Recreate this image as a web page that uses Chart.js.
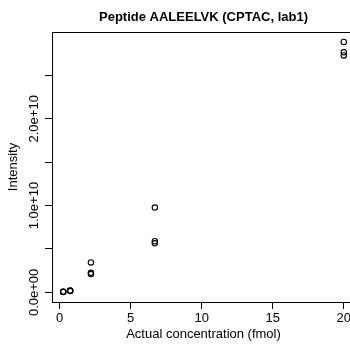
<!DOCTYPE html>
<html>
<head>
<meta charset="utf-8">
<script src="https://cdn.jsdelivr.net/npm/chart.js@4"></script>
<style>
html, body { margin: 0; padding: 0; overflow: hidden; background: #fff; }
canvas { display: block; }
</style>
</head>
<body>
<canvas id="myScatter" width="360" height="346"></canvas>
<script>
// values (3 replicates per concentration)
var concentrations = [0.25, 0.74, 2.2, 6.7, 20];
var intensityRep1 = [0.08e9, 0.20e9, 3.45e9, 9.77e9, 28.85e9];
var intensityRep2 = [0.06e9, 0.17e9, 2.25e9, 5.90e9, 27.66e9];
var intensityRep3 = [0.04e9, 0.15e9, 2.10e9, 5.65e9, 27.30e9];

var xTicks = [0, 5, 10, 15, 20];
var yTicks = [0, 5e9, 1e10, 1.5e10, 2e10, 2.5e10];
var yTickLabels = ['0.0e+00', '', '1.0e+10', '', '2.0e+10', ''];

var points = [];
[intensityRep1, intensityRep2, intensityRep3].forEach(function(rep){
    concentrations.forEach(function(c, i){
        points.push({x: c, y: rep[i]});
    });
});

// R style axis range: data range plus 4% on each side
function rRange(vals){
    var lo = Math.min.apply(null, vals), hi = Math.max.apply(null, vals);
    var d = (hi - lo) * 0.04;
    return [lo - d, hi + d];
}
var xr = rRange(points.map(function(p){ return p.x; }));
var yr = rRange(points.map(function(p){ return p.y; }));

Chart.defaults.font.family = '"Liberation Sans", Arial, Helvetica, sans-serif';
Chart.defaults.font.size = 13;
Chart.defaults.color = '#000';

var rStyle = {
    id: 'rStyle',
    afterDraw: function(chart){
        var ctx = chart.ctx, a = chart.chartArea, ys = chart.scales.y;
        ctx.save();
        ctx.strokeStyle = '#000';
        ctx.lineWidth = 1;
        ctx.strokeRect(Math.round(a.left) + 0.5, Math.round(a.top) + 0.5,
            Math.round(a.right - a.left), Math.round(a.bottom - a.top));
        // rotated y tick labels
        ctx.fillStyle = '#000';
        ctx.font = '13px "Liberation Sans", Arial, sans-serif';
        ctx.textAlign = 'center';
        ctx.textBaseline = 'alphabetic';
        yTicks.forEach(function(v, i){
            if (!yTickLabels[i]) return;
            ctx.save();
            ctx.translate(38, ys.getPixelForValue(v));
            ctx.rotate(-Math.PI / 2);
            ctx.fillText(yTickLabels[i], 0, 0);
            ctx.restore();
        });
        // main title
        ctx.font = 'bold 13px "Liberation Sans", Arial, sans-serif';
        ctx.fillText('Peptide AALEELVK (CPTAC, lab1)', (a.left + a.right) / 2, 21);
        ctx.restore();
    }
};

var ctx = document.getElementById('myScatter');
var myScatter = new Chart(ctx, {
    type: 'scatter',
    data: {
        datasets: [{
            data: points,
            pointStyle: 'circle',
            pointRadius: 2.7,
            pointBorderWidth: 1.1,
            pointBorderColor: '#000',
            pointBackgroundColor: 'rgba(0,0,0,0)',
            pointHoverRadius: 2.7
        }]
    },
    options: {
        responsive: false,
        animation: false,
        layout: { padding: { top: 32, right: 5, left: 0, bottom: 0 } },
        plugins: { legend: { display: false }, tooltip: { enabled: false } },
        scales: {
            x: {
                type: 'linear',
                min: xr[0],
                max: xr[1],
                afterBuildTicks: function(s){ s.ticks = xTicks.map(function(v){ return {value: v}; }); },
                afterFit: function(s){ s.height = 44; },
                grid: { drawOnChartArea: false, drawTicks: true, tickLength: 7, color: '#000' },
                border: { display: false },
                ticks: { autoSkip: false, maxRotation: 0, padding: 2, color: '#000',
                    callback: function(v){ return String(v); } },
                title: { display: true, text: 'Actual concentration (fmol)', padding: { top: 0, bottom: 4 } }
            },
            y: {
                type: 'linear',
                min: yr[0],
                max: yr[1],
                afterBuildTicks: function(s){ s.ticks = yTicks.map(function(v){ return {value: v}; }); },
                afterFit: function(s){ s.width = 52; },
                grid: { drawOnChartArea: false, drawTicks: true, tickLength: 7, color: '#000' },
                border: { display: false },
                ticks: { display: false },
                title: { display: true, text: 'Intensity', padding: { top: 6, bottom: 0 } }
            }
        }
    },
    plugins: [rStyle]
});
</script>
</body>
</html>
